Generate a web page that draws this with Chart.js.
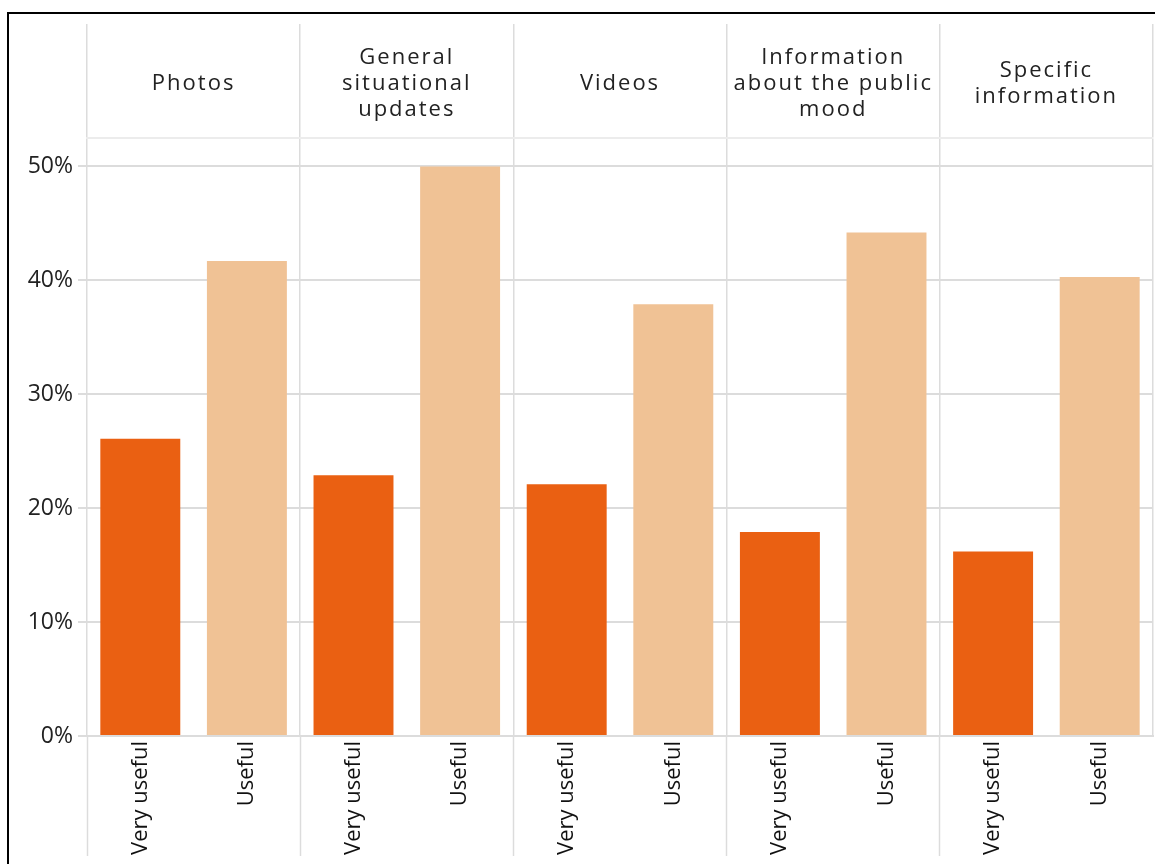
<!DOCTYPE html>
<html>
<head>
<meta charset="utf-8">
<script src="https://cdn.jsdelivr.net/npm/chart.js@4.4.1/dist/chart.umd.min.js"></script>
<style>
    body { margin: 0; background: #fff; }
    #wrap { position: relative; width: 1155px; height: 864px; }
    #frame {
        position: absolute; left: 7px; top: 12px; right: 0; bottom: 0;
        border-left: 2px solid #000; border-top: 2px solid #000;
        pointer-events: none;
    }
</style>
</head>
<body>
<div id="wrap">
    <canvas id="chart"></canvas>
    <div id="frame"></div>
</div>
<script>
// data
const groups = [
    ['Photos'],
    ['General', 'situational', 'updates'],
    ['Videos'],
    ['Information', 'about the public', 'mood'],
    ['Specific', 'information']
];
const ratings = ['Very useful', 'Useful'];
const veryUseful = [26.1, 22.9, 22.1, 17.9, 16.2];
const useful = [41.7, 50.0, 37.9, 44.2, 40.3];
const yTicks = [0, 10, 20, 30, 40, 50];

const darkOrange = '#EA6012';
const lightOrange = '#F0C295';
const gridGrey = '#dcdcdc';

// category axis whose labels are drawn with a bit of letter spacing (header row)
class SpacedCategory extends Chart.CategoryScale {
    drawLabels(area) {
        const c = this.ctx;
        c.save();
        c.letterSpacing = '2px';
        super.drawLabels(area);
        c.restore();
    }
}
SpacedCategory.id = 'spacedCategory';
SpacedCategory.defaults = Chart.CategoryScale.defaults;
Chart.register(SpacedCategory);

// one bar per rating inside each group
var labels = [];
var values = [];
var colors = [];
groups.forEach(function (g, i) {
    labels.push(ratings[0], ratings[1]);
    values.push(veryUseful[i], useful[i]);
    colors.push(darkOrange, lightOrange);
});

var ctx = document.getElementById('chart').getContext('2d');
var myChart = new Chart(ctx, {
    type: 'bar',
    data: {
        labels: labels,
        datasets: [{
            label: 'Share',
            data: values,
            backgroundColor: colors,
            borderWidth: 0,
            barPercentage: 0.75,
            categoryPercentage: 1,
            xAxisID: 'x',
            yAxisID: 'y'
        }]
    },
    options: {
        responsive: true,
        maintainAspectRatio: false,
        animation: false,
        layout: { padding: { left: 0, right: 2, top: 24, bottom: 0 } },
        plugins: {
            legend: { display: false },
            tooltip: { enabled: false }
        },
        scales: {
            x: {
                position: 'bottom',
                offset: true,
                grid: {
                    offset: true,
                    drawOnChartArea: false,
                    tickLength: 120,
                    tickWidth: 1.5,
                    tickColor: function (c) {
                        return c.index % 2 === 0 ? gridGrey : 'rgba(0,0,0,0)';
                    }
                },
                border: { display: true, color: gridGrey, width: 2 },
                ticks: {
                    autoSkip: false,
                    minRotation: 90,
                    maxRotation: 90,
                    padding: -115,
                    color: '#111',
                    font: { family: 'Open Sans', size: 22 }
                },
                afterFit: function (s) { s.height = 128; }
            },
            xTop: {
                type: 'spacedCategory',
                position: 'top',
                labels: groups,
                offset: true,
                grid: {
                    offset: true,
                    drawOnChartArea: true,
                    color: gridGrey,
                    lineWidth: 1.5,
                    tickLength: 114
                },
                border: { display: true, color: '#ececec', width: 2 },
                ticks: {
                    autoSkip: false,
                    maxRotation: 0,
                    crossAlign: 'center',
                    padding: -86,
                    color: '#222',
                    font: { family: 'Open Sans', size: 22, lineHeight: '26px' }
                },
                afterFit: function (s) { s.height = 114; }
            },
            y: {
                min: 0,
                max: 52.5,
                border: { display: false },
                grid: {
                    color: gridGrey,
                    lineWidth: 2,
                    tickLength: 9
                },
                afterBuildTicks: function (s) {
                    s.ticks = yTicks.map(function (v) { return { value: v }; });
                },
                ticks: {
                    padding: 5,
                    color: '#222',
                    font: { family: 'Open Sans', size: 23 },
                    callback: function (v) { return v + '%'; }
                },
                afterFit: function (s) { s.width = 87; }
            }
        }
    }
});
</script>
</body>
</html>
